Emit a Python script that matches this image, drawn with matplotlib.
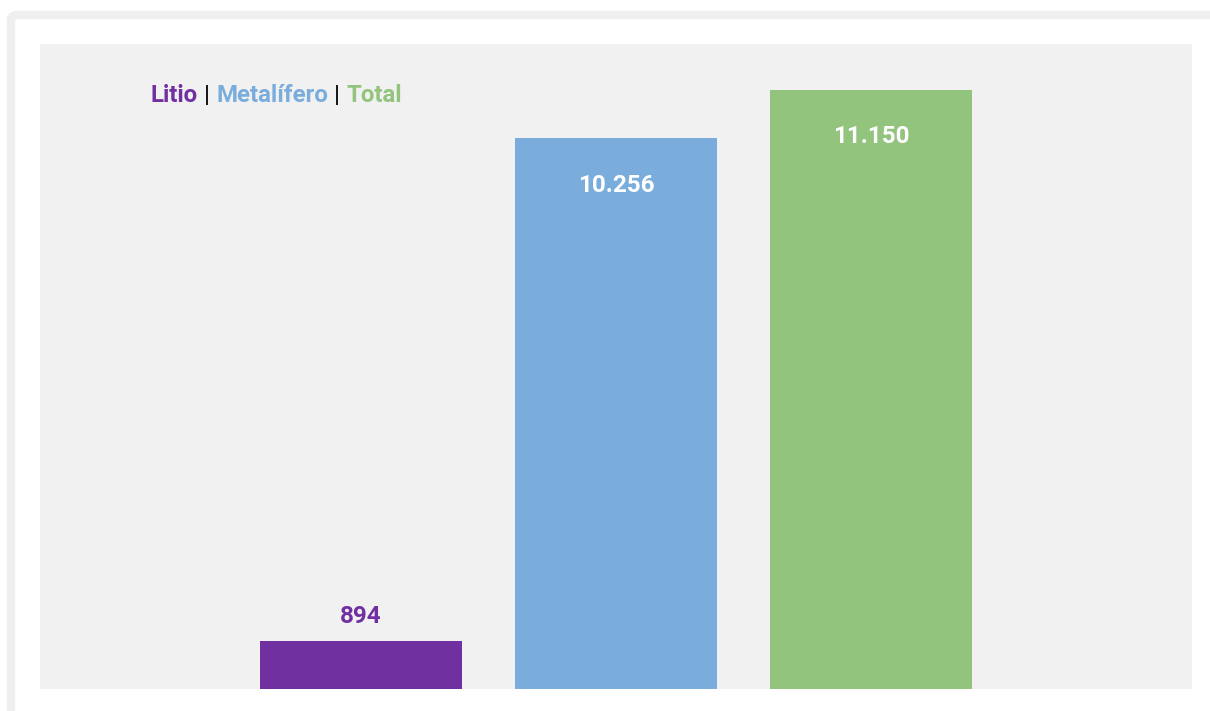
import matplotlib
matplotlib.use("Agg")
import matplotlib.pyplot as plt
from matplotlib.patches import FancyBboxPatch

categories = ["Litio", "Metalífero", "Total"]
values = [894, 10256, 11150]
value_labels = ["894", "10.256", "11.150"]
colors = ["#7030a0", "#7aaddc", "#93c47d"]

W, H = 1210, 711
fig = plt.figure(figsize=(W / 100, H / 100), dpi=100)
fig.patch.set_facecolor("white")

# outer card frame
frame = FancyBboxPatch((11 / W, -40 / H), 1.2, (711 - 15 + 40) / H,
                       boxstyle="round,pad=0,rounding_size=0.006",
                       transform=fig.transFigure, facecolor="none",
                       edgecolor="#efefef", linewidth=6, zorder=0)
fig.patches.append(frame)

ax = fig.add_axes([40 / W, (H - 689) / H, (1192 - 40) / W, (689 - 44) / H])
ax.set_facecolor("#f1f1f1")
for s in ax.spines.values():
    s.set_visible(False)
ax.set_xticks([])
ax.set_yticks([])

x = list(range(len(categories)))
ax.bar(x, values, width=0.792, color=colors, zorder=2)
ax.set_xlim(-1.259, 3.259)
ax.set_ylim(0, 12006)

font = "Roboto"
for xi, v, lab, c in zip(x, values, value_labels, colors):
    if v > 3000:
        ax.annotate(lab, (xi, v), xytext=(0, -47), textcoords="offset pixels",
                    ha="center", va="center", color="white", fontsize=17.5,
                    fontweight="bold", family=font)
    else:
        ax.annotate(lab, (xi, v), xytext=(0, 24), textcoords="offset pixels",
                    ha="center", va="center", color=c, fontsize=17.5,
                    fontweight="bold", family=font)

# legend line: colored category names separated by bars
pieces = []
for i, (cat, c) in enumerate(zip(categories, colors)):
    if i > 0:
        pieces.append((" | ", "#1a1a1a", "bold"))
    pieces.append((cat, c, "bold"))

fig.canvas.draw()
renderer = fig.canvas.get_renderer()
xpos = 151
ybase = H - 102
for txt, c, w in pieces:
    t = fig.text(xpos / W, ybase / H, txt, color=c, fontsize=17.3,
                 fontweight=w, family=font, ha="left", va="baseline")
    bb = t.get_window_extent(renderer=renderer)
    xpos += bb.width

fig.savefig("out.png", dpi=100, facecolor="white")
